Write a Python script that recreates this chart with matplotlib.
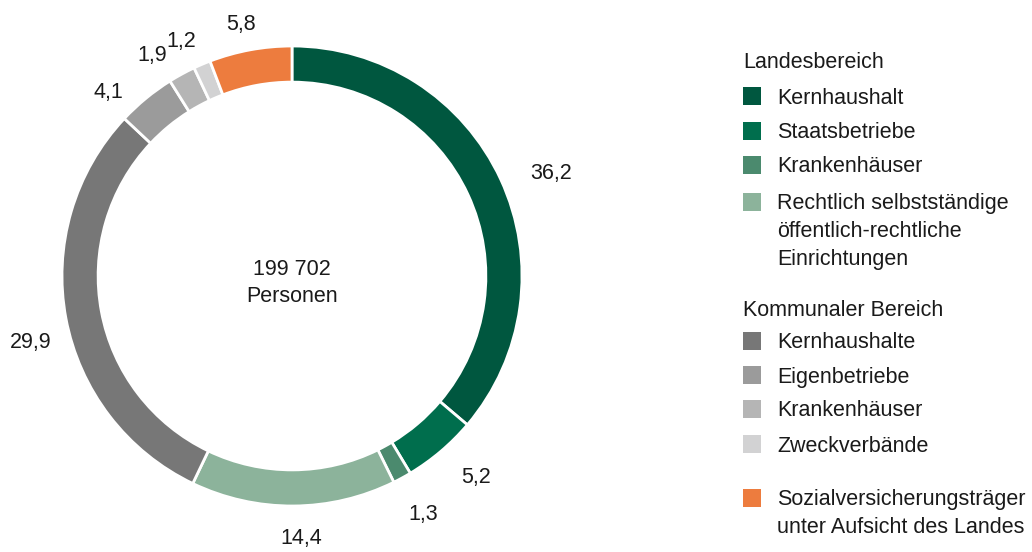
import matplotlib
matplotlib.use('Agg')
import numpy as np
import matplotlib.pyplot as plt
from matplotlib.patches import Rectangle

plt.rcParams['font.family'] = ['Liberation Sans', 'DejaVu Sans']

# Anteile in Prozent (im Uhrzeigersinn ab 12 Uhr)
werte = [36.2, 5.2, 1.3, 14.4, 29.9, 4.1, 1.9, 1.2, 5.8]
wert_labels = ['36,2', '5,2', '1,3', '14,4', '29,9', '4,1', '1,9', '1,2', '5,8']
farben = ['#00573f', '#006e4d', '#4b8a6e', '#8cb39b',
          '#777777', '#9b9b9b', '#b5b5b5', '#d2d2d3', '#ed7c3e']
summe_text = '199 702\nPersonen'

gruppe_land = 'Landesbereich'
land_items = ['Kernhaushalt', 'Staatsbetriebe', 'Krankenhäuser',
              'Rechtlich selbstständige\nöffentlich-rechtliche\nEinrichtungen']
gruppe_kommunal = 'Kommunaler Bereich'
kommunal_items = ['Kernhaushalte', 'Eigenbetriebe', 'Krankenhäuser', 'Zweckverbände']
sozial_item = 'Sozialversicherungsträger\nunter Aufsicht des Landes'

# Beschriftungsabstand (Radius) und Winkelkorrektur (Grad) je Segment
label_dist = [1.213, 1.182, 1.177, 1.135, 1.168, 1.137, 1.141, 1.134, 1.126]
label_shift = [-2.9, 2.3, 0.3, 1.6, 3.2, 5.3, 3.6, 2.2, 1.0]

W, H = 1032, 552
fig = plt.figure(figsize=(W / 100, H / 100), dpi=100)

# Donut: Mitte (292, 276) px, Radius 230 px
cx, cy, R = 292, 276, 230
box = 250
ax = fig.add_axes([(cx - box) / W, (H - cy - box) / H, 2 * box / W, 2 * box / H])
wedges, _ = ax.pie(werte, colors=farben, startangle=90, counterclock=False,
                   radius=1.0,
                   wedgeprops=dict(width=0.157, edgecolor='white', linewidth=2))

fs = 15.5
dy_txt = -0.008  # Textmitte leicht nach unten
for w, lab, d, s in zip(wedges, wert_labels, label_dist, label_shift):
    a = np.deg2rad((w.theta1 + w.theta2) / 2 + s)
    ax.text(d * np.cos(a), d * np.sin(a) + dy_txt, lab, ha='center', va='center',
            fontsize=fs, color='#1a1a1a')

lim = box / R
ax.set_xlim(-lim, lim)
ax.set_ylim(-lim, lim)
ax.set_aspect('equal')
ax.axis('off')

ax.text(0, 0.028, summe_text.split('\n')[0], ha='center', va='center',
        fontsize=fs, color='#1a1a1a')
ax.text(0, -0.088, summe_text.split('\n')[1], ha='center', va='center',
        fontsize=fs, color='#1a1a1a')

# Legende
def fy(y):
    return 1 - y / H

sq = 18
x_sq = 743
x_txt = 777
line = 27.5
off = 2

def text_zeilen(y_first, text, farbe):
    fig.patches.append(Rectangle((x_sq / W, fy(y_first + sq / 2)), sq / W, sq / H,
                                 transform=fig.transFigure, facecolor=farbe,
                                 edgecolor='none'))
    for i, z in enumerate(text.split('\n')):
        fig.text(x_txt / W, fy(y_first + i * line + off), z, ha='left', va='center',
                 fontsize=fs, color='#1a1a1a')

fig.text(x_sq / W, fy(61 + off), gruppe_land, ha='left', va='center',
         fontsize=fs, color='#1a1a1a')
land_y = [96, 131, 165, 202]
for y, name, f in zip(land_y, land_items, farben[:4]):
    text_zeilen(y, name, f)

fig.text(x_sq / W, fy(308 + off), gruppe_kommunal, ha='left', va='center',
         fontsize=fs, color='#1a1a1a')
kom_y = [341, 375, 409, 444]
for y, name, f in zip(kom_y, kommunal_items, farben[4:8]):
    text_zeilen(y, name, f)

text_zeilen(498, sozial_item, farben[8])

fig.savefig('out.png', dpi=100, facecolor='white')
